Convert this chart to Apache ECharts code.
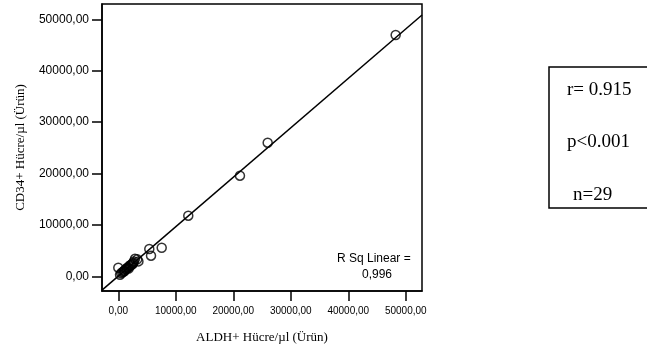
<!DOCTYPE html>
<html>
<head>
<meta charset="utf-8">
<script src="https://cdn.jsdelivr.net/npm/echarts@6/dist/echarts.min.js"></script>
<style>
html,body{margin:0;padding:0;background:#fff;}
#chart{width:647px;height:349px;}
</style>
</head>
<body>
<div id="chart"></div>
<script>
// ALDH+ cells/µl (x) and CD34+ cells/µl (y)
const aldhValues = [48240, 25980, 21160, 12170, 7550, 5390, 5690, 0,
  2900, 3300, 3500, 2600, 2700,
  300, 500, 700, 900, 1000, 1100, 1200, 1400, 1500, 1700, 1800, 1900, 2000, 2200, 2400, 2500];
const cd34Values = [46950, 25990, 19570, 11790, 5560, 5310, 4010, 1670,
  3400, 3300, 2900, 2600, 2900,
  300, 600, 800, 900, 1100, 1000, 1300, 1400, 1600, 1700, 1500, 1900, 2100, 2200, 2300, 2500];
const tickValues = [0, 10000, 20000, 30000, 40000, 50000];
// Fit line
const fitSlope = 0.962;
const fitIntercept = 30;
const rSqText = ['R Sq Linear =', '0,996'];
const statLines = ['r= 0.915', 'p<0.001', 'n=29'];
const xName = 'ALDH+ Hücre/µl (Ürün)';
const yName = 'CD34+ Hücre/µl (Ürün)';

const xMin = -2835, xMax = 52820, yMin = -2860, yMax = 52980;
const fmt = v => v.toFixed(2).replace('.', ',');
const points = aldhValues.map((x, i) => [x, cd34Values[i]]);
const fitLine = [[xMin, fitIntercept + fitSlope * xMin], [xMax, fitIntercept + fitSlope * xMax]];

const chart = echarts.init(document.getElementById('chart'), null, {renderer: 'canvas'});
const sans = 'Liberation Sans, Arial, sans-serif';
const serif = 'Liberation Serif, Times New Roman, serif';
chart.setOption({
  animation: false,
  backgroundColor: '#fff',
  grid: {left: 102, top: 4, right: 225, bottom: 58, show: true, borderColor: '#000', borderWidth: 1.5, backgroundColor: 'transparent'},
  xAxis: {
    type: 'value', min: xMin, max: xMax,
    splitLine: {show: false},
    axisLine: {show: true, onZero: false, lineStyle: {color: '#000', width: 1.5}},
    axisTick: {show: true, customValues: tickValues, length: 10, lineStyle: {color: '#000', width: 1.5}},
    axisLabel: {customValues: tickValues, formatter: fmt, margin: 15, fontSize: 10, color: '#000', fontFamily: sans},
    name: xName, nameLocation: 'middle', nameGap: 40,
    nameTextStyle: {fontSize: 13, fontFamily: serif, color: '#000'}
  },
  yAxis: {
    type: 'value', min: yMin, max: yMax,
    splitLine: {show: false},
    axisLine: {show: true, onZero: false, lineStyle: {color: '#000', width: 1.5}},
    axisTick: {show: true, customValues: tickValues, length: 10, lineStyle: {color: '#000', width: 1.5}},
    axisLabel: {customValues: tickValues, formatter: fmt, margin: 13, fontSize: 12, color: '#000', fontFamily: sans},
    name: yName, nameLocation: 'middle', nameGap: 75, nameRotate: 90,
    nameTextStyle: {fontSize: 13, fontFamily: serif, color: '#000'}
  },
  series: [
    {
      type: 'line', data: fitLine, showSymbol: false, clip: true, silent: true,
      lineStyle: {color: '#000', width: 1.5}
    },
    {
      type: 'scatter', data: points, symbol: 'circle', symbolSize: 9,
      itemStyle: {color: 'rgba(0,0,0,0)', borderColor: '#000', borderWidth: 1.5}
    }
  ],
  graphic: [
    {type: 'text', left: 377 - 40, top: 253, style: {text: rSqText[0], x: 0, y: 0, font: '12px ' + sans, fill: '#000'}},
    {type: 'text', x: 377, y: 269, style: {text: rSqText[1], textAlign: 'center', font: '12px ' + sans, fill: '#000'}},
    {type: 'rect', shape: {x: 549, y: 67, width: 120, height: 141}, style: {fill: 'none', stroke: '#000', lineWidth: 1.5}},
    {type: 'text', x: 567, y: 81, style: {text: statLines[0], font: '19px ' + serif, fill: '#000'}},
    {type: 'text', x: 567, y: 133, style: {text: statLines[1], font: '19px ' + serif, fill: '#000'}},
    {type: 'text', x: 573, y: 186, style: {text: statLines[2], font: '19px ' + serif, fill: '#000'}}
  ]
});
</script>
</body>
</html>
